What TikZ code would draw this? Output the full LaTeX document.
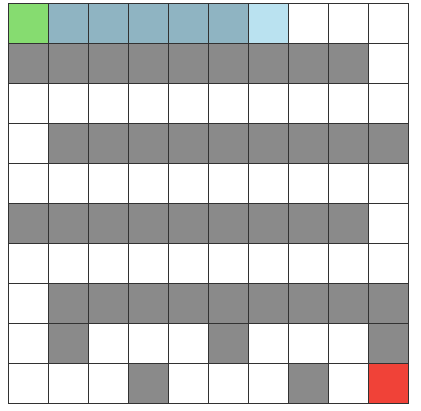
\documentclass[tikz,border=0pt]{standalone}
\usepackage{xcolor}
\usepackage{tikz}

\definecolor{startgreen}{RGB}{134,220,112}
\definecolor{pathblue}{RGB}{143,180,194}
\definecolor{nextblue}{RGB}{186,226,240}
\definecolor{wallgray}{RGB}{138,138,138}
\definecolor{goalred}{RGB}{240,66,56}
\definecolor{gridline}{RGB}{50,50,50}

\begin{document}
\begin{tikzpicture}[
  x=1cm, y=-1cm,
  cell/.style={draw=gridline, line width=0.6pt},
  wall/.style={cell, fill=wallgray},
  visited/.style={cell, fill=pathblue},
]
  \useasboundingbox (-0.2,-0.075) rectangle (10.325,10.2);

  %% -- empty grid ---------------------------------------------
  \foreach \r in {0,...,9}
    \foreach \c in {0,...,9}
      \draw[cell, fill=white] (\c,\r) rectangle ++(1,1);

  %% -- walls (row/col) ----------------------------------------
  \foreach \c in {0,...,8} {
    \draw[wall] (\c,1) rectangle ++(1,1);
    \draw[wall] (\c,5) rectangle ++(1,1);
  }
  \foreach \c in {1,...,9} {
    \draw[wall] (\c,3) rectangle ++(1,1);
    \draw[wall] (\c,7) rectangle ++(1,1);
  }
  \foreach \c/\r in {1/8, 5/8, 9/8, 3/9, 7/9}
    \draw[wall] (\c,\r) rectangle ++(1,1);

  %% -- search path --------------------------------------------
  \foreach \c in {1,...,5}
    \draw[visited] (\c,0) rectangle ++(1,1);
  \draw[cell, fill=nextblue] (6,0) rectangle ++(1,1);

  %% -- start and goal -----------------------------------------
  \draw[cell, fill=startgreen] (0,0) rectangle ++(1,1);
  \draw[cell, fill=goalred] (9,9) rectangle ++(1,1);

\end{tikzpicture}
\end{document}
